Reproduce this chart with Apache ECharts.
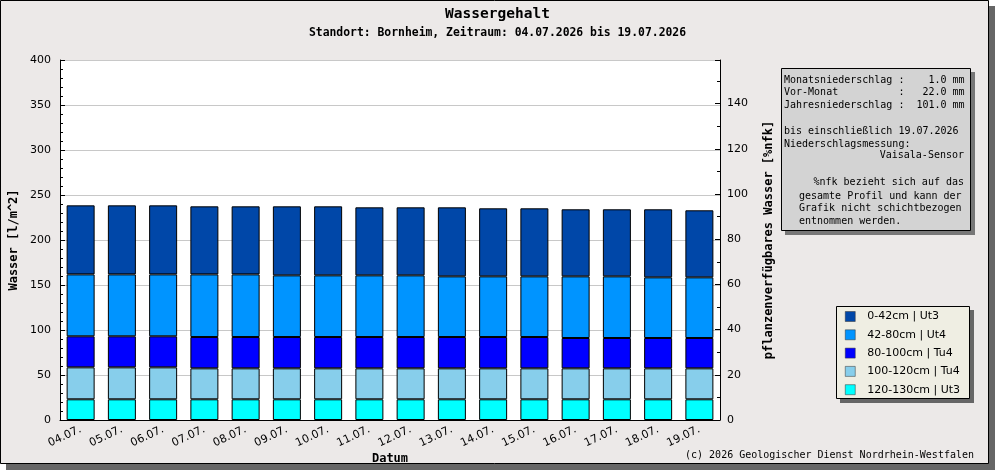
<!DOCTYPE html>
<html>
<head>
<meta charset="utf-8">
<script src="https://cdn.jsdelivr.net/npm/echarts@6/dist/echarts.min.js"></script>
<style>
  html, body { margin: 0; padding: 0; background: #fff; }
  #chart { width: 995px; height: 470px; }
</style>
</head>
<body>
<div id="chart"></div>
<script>
// Datum (x-Achse)
var categories = ['04.07.', '05.07.', '06.07.', '07.07.', '08.07.', '09.07.', '10.07.', '11.07.',
  '12.07.', '13.07.', '14.07.', '15.07.', '16.07.', '17.07.', '18.07.', '19.07.'];

// Wasser [l/m^2] je Schicht
var layer120_130 = [23.0, 23.0, 23.0, 23.0, 23.0, 23.0, 23.0, 23.0, 23.0, 23.0, 23.0, 23.0, 23.0, 23.0, 23.0, 23.0];
var layer100_120 = [35.5, 35.5, 35.5, 34.4, 34.4, 34.4, 34.4, 34.4, 34.4, 34.4, 34.4, 34.4, 34.4, 34.4, 34.4, 34.4];
var layer80_100 = [34.5, 34.5, 34.5, 34.8, 34.8, 34.8, 34.8, 34.8, 34.8, 34.8, 34.8, 34.8, 33.7, 33.7, 33.7, 33.7];
var layer42_80 = [68.8, 68.8, 68.8, 69.6, 69.6, 68.5, 68.5, 68.5, 68.5, 67.4, 67.4, 67.4, 68.5, 68.5, 67.4, 67.4];
var layer0_42 = [76.7, 76.7, 76.7, 75.6, 75.6, 76.7, 76.7, 75.6, 75.6, 76.7, 75.6, 75.6, 74.5, 74.5, 75.6, 74.5];

var layerNames = ['120-130cm | Ut3', '100-120cm | Tu4', '80-100cm | Tu4', '42-80cm | Ut4', '0-42cm | Ut3'];
var layerColors = ['#00ffff', '#87ceeb', '#0000ff', '#0094ff', '#0047a8'];
var layerData = [layer120_130, layer100_120, layer80_100, layer42_80, layer0_42];

// Infotext
var infoLines = [
  'Monatsniederschlag :    1.0 mm',
  'Vor-Monat          :   22.0 mm',
  'Jahresniederschlag :  101.0 mm',
  '',
  'bis einschließlich 19.07.2026',
  'Niederschlagsmessung:'
];

var mono = 'DejaVu Sans Mono';
var sans = 'DejaVu Sans';

var chart = echarts.init(document.getElementById('chart'));

var series = layerData.map(function (d, i) {
  return {
    name: layerNames[i],
    type: 'bar',
    stack: 'wasser',
    data: d,
    barWidth: 28,
    itemStyle: { color: layerColors[i], borderColor: '#000', borderWidth: 1 },
    emphasis: { disabled: true }
  };
});

chart.setOption({
  animation: false,
  title: {
    text: 'Wassergehalt',
    subtext: 'Standort: Bornheim, Zeitraum: 04.07.2026 bis 19.07.2026',
    left: 'center',
    top: 7,
    padding: 0,
    itemGap: 6,
    textStyle: { fontFamily: mono, fontWeight: 'bold', fontSize: 14.5, color: '#000' },
    subtextStyle: { fontFamily: mono, fontWeight: 'bold', fontSize: 11.4, color: '#000' }
  },
  grid: {
    left: 60, right: 275, top: 60, bottom: 50,
    show: true, backgroundColor: '#fff', borderWidth: 0
  },
  legend: {
    data: layerNames.slice().reverse(),
    orient: 'vertical',
    left: 845,
    top: 311,
    padding: 0,
    itemWidth: 10,
    itemHeight: 10,
    itemGap: 7.3,
    icon: 'rect',
    itemStyle: { borderColor: '#333', borderWidth: 0.5 },
    textStyle: { fontFamily: sans, fontSize: 11, color: '#000', lineHeight: 10, padding: [0, 0, 0, 7] },
    selectedMode: false
  },
  xAxis: {
    type: 'category',
    data: categories,
    axisLine: { lineStyle: { color: '#000', width: 1 } },
    axisTick: { inside: true, length: 5, lineStyle: { color: '#000' } },
    axisLabel: { rotate: 25, margin: 9, fontFamily: sans, fontSize: 11, color: '#000' }
  },
  yAxis: [{
    type: 'value',
    min: 0, max: 400, interval: 50,
    axisLine: { show: true, lineStyle: { color: '#000' } },
    axisTick: { show: true, inside: true, length: 5, lineStyle: { color: '#000' } },
    minorTick: { show: true, splitNumber: 5, length: 3, lineStyle: { color: '#000' } },
    splitLine: { show: true, lineStyle: { color: '#c8c8c8', width: 1 } },
    axisLabel: { margin: 9, fontFamily: sans, fontSize: 11, color: '#000' }
  }, {
    type: 'value',
    position: 'right',
    min: 0, max: 159.3, interval: 20,
    axisLine: { show: true, lineStyle: { color: '#000' } },
    axisTick: { show: true, inside: true, length: 5, lineStyle: { color: '#000' } },
    minorTick: { show: true, splitNumber: 2, length: 3, lineStyle: { color: '#000' } },
    splitLine: { show: false },
    axisLabel: { margin: 7, showMaxLabel: false, fontFamily: sans, fontSize: 11, color: '#000' }
  }],
  series: series,
  graphic: [
    // Rahmen mit Schatten
    { type: 'rect', z: -20, shape: { x: 6, y: 6, width: 989, height: 464 }, style: { fill: '#666' } },
    { type: 'rect', z: -19, shape: { x: 0.5, y: 0.5, width: 988, height: 463 }, style: { fill: '#ece9e8', stroke: '#000', lineWidth: 1 } },
    // Infobox
    { type: 'rect', z: 1, shape: { x: 785, y: 72, width: 190, height: 163 }, style: { fill: '#777' } },
    { type: 'rect', z: 2, shape: { x: 781.5, y: 68.5, width: 189, height: 162 }, style: { fill: '#d3d3d3', stroke: '#000', lineWidth: 1 } },
    { type: 'text', z: 3, x: 784, y: 73.5, style: { text: infoLines.join('\n'), font: '10px ' + mono, lineHeight: 12.9, fill: '#000' } },
    { type: 'text', z: 3, x: 964, y: 150.5, style: { text: 'Vaisala-Sensor', font: '10px ' + mono, align: 'right', fill: '#000' } },
    { type: 'text', z: 3, x: 964, y: 177, style: { text: '%nfk bezieht sich auf das', font: '10px ' + mono, align: 'right', fill: '#000' } },
    { type: 'text', z: 3, x: 799, y: 189.5, style: { text: 'gesamte Profil und kann der\nGrafik nicht schichtbezogen\nentnommen werden.', font: '10px ' + mono, lineHeight: 12.9, fill: '#000' } },
    // Legendenbox
    { type: 'rect', z: 1, shape: { x: 840, y: 310, width: 134, height: 93 }, style: { fill: '#666' } },
    { type: 'rect', z: 2, shape: { x: 836.5, y: 306.5, width: 133, height: 92 }, style: { fill: '#efeee3', stroke: '#000', lineWidth: 1 } },
    // Achsentitel
    { type: 'text', z: 3, x: 14, y: 240, rotation: Math.PI / 2, style: { text: 'Wasser [l/m^2]', font: 'bold 12px ' + mono, align: 'center', verticalAlign: 'middle', fill: '#000' } },
    { type: 'text', z: 3, x: 769, y: 240, rotation: Math.PI / 2, style: { text: 'pflanzenverfügbares Wasser [%nfk]', font: 'bold 12px ' + mono, align: 'center', verticalAlign: 'middle', fill: '#000' } },
    { type: 'text', z: 3, x: 390, y: 459, style: { text: 'Datum', font: 'bold 12px ' + mono, align: 'center', verticalAlign: 'middle', fill: '#000' } },
    { type: 'text', z: 3, x: 974, y: 455, style: { text: '(c) 2026 Geologischer Dienst Nordrhein-Westfalen', font: '10px ' + mono, align: 'right', verticalAlign: 'middle', fill: '#000' } }
  ]
});
</script>
</body>
</html>
